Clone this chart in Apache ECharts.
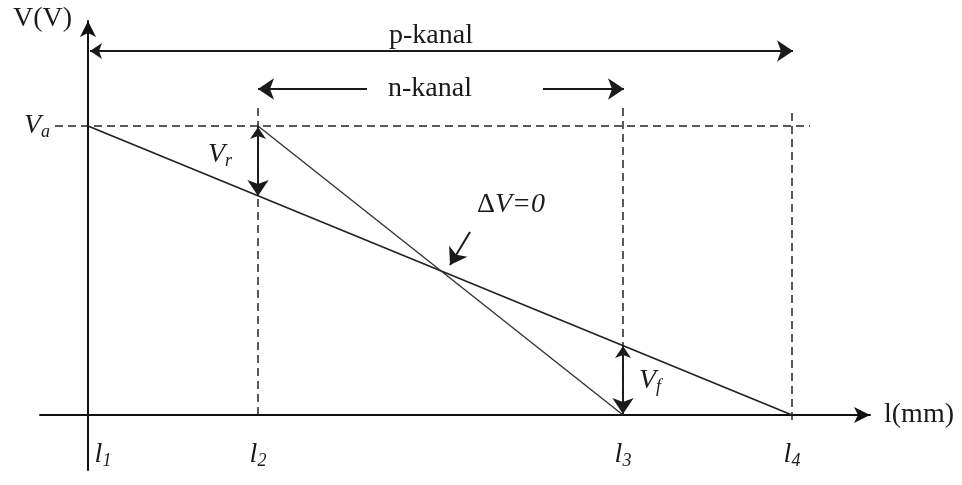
<!DOCTYPE html>
<html>
<head>
<meta charset="utf-8">
<script src="https://cdn.jsdelivr.net/npm/echarts@6/dist/echarts.min.js"></script>
<style>
  html, body { margin: 0; padding: 0; background: #fff; }
  #chart { width: 962px; height: 485px; }
</style>
</head>
<body>
<div id="chart"></div>
<script>
// positions along the channel (l1..l4) and the applied potential
const lPos = [0, 1.70, 5.35, 7.04];
const lNames = ['1', '2', '3', '4'];
const Va = 2.89;

// potential profiles
const pProfile = [[lPos[0], Va], [lPos[3], 0]];
const nProfile = [[lPos[1], Va], [lPos[2], 0]];

// dashed guide lines
const guides = [
  [[lPos[1], 0], [lPos[1], 3.12]],
  [[lPos[2], 0], [lPos[2], 3.08]],
  [[lPos[3], -0.05], [lPos[3], 3.02]],
  [[-0.33, Va], [7.22, Va]]
];

// arrows
const doubleArrows = [
  [[0.02, 3.64], [7.05, 3.64]],       // p-kanal
  [[lPos[1], 2.88], [lPos[1], 2.19]], // Vr
  [[lPos[2], 0.69], [lPos[2], 0.01]]  // Vf
];
const singleArrows = [
  [[2.79, 3.26], [1.70, 3.26]],
  [[4.55, 3.26], [5.36, 3.26]],
  [[3.82, 1.83], [3.62, 1.50]]
];

// text annotations [x, y, rich text]
const notes = [
  [3.43, 3.79, '{t|p-kanal}'],
  [3.42, 3.26, '{t|n-kanal}'],
  [1.32, 2.60, '{i|V}{s|r}'],
  [5.62, 0.34, '{i|V}{s|f}'],
  [4.23, 2.10, '{n|Δ}{i|V=0}']
];

const serif = 'Liberation Serif';
const ink = '#1a1a1a';
const rich = {
  t: { fontFamily: serif, fontSize: 28, color: ink },
  n: { fontFamily: serif, fontSize: 28, color: ink },
  i: { fontFamily: serif, fontSize: 28, fontStyle: 'italic', color: ink },
  s: { fontFamily: serif, fontSize: 18, fontStyle: 'italic', color: ink, padding: [12, 0, 0, 0] },
  i0: { fontFamily: serif, fontSize: 28, fontStyle: 'italic', color: ink, padding: [0, 0, 0, 30] }
};

const chart = echarts.init(document.getElementById('chart'));

const series = [
  {
    type: 'line', data: pProfile, symbol: 'none', silent: true,
    lineStyle: { color: '#222', width: 1.7 }
  },
  {
    type: 'line', data: nProfile, symbol: 'none', silent: true,
    lineStyle: { color: '#333', width: 1.4 }
  }
];

guides.forEach((g) => {
  series.push({
    type: 'line', data: g, symbol: 'none', silent: true,
    lineStyle: { color: '#222', width: 1.5, type: [8, 5] }
  });
});

series.push({
  type: 'lines', coordinateSystem: 'cartesian2d', silent: true,
  symbol: ['arrow', 'arrow'], symbolSize: [12, 16],
  lineStyle: { color: '#1a1a1a', width: 2, opacity: 1 },
  data: doubleArrows.map((c) => ({ coords: c }))
});

series.push({
  type: 'lines', coordinateSystem: 'cartesian2d', silent: true,
  symbol: ['none', 'arrow'], symbolSize: [12, 16],
  lineStyle: { color: '#1a1a1a', width: 2, opacity: 1 },
  data: singleArrows.map((c) => ({ coords: c }))
});

series.push({
  type: 'scatter', silent: true, symbolSize: 0,
  itemStyle: { color: '#fff' },
  data: notes.map((n) => ({ value: [n[0], n[1]], text: n[2] })),
  label: {
    show: true, position: 'inside', color: ink, opacity: 1,
    formatter: (p) => p.data.text,
    rich: rich
  }
});

const option = {
  animation: false,
  backgroundColor: '#fff',
  grid: { left: 40, top: 21, width: 830, height: 449, containLabel: false, outerBoundsMode: 'none' },
  xAxis: {
    type: 'value', min: -0.48, max: 7.82,
    name: 'l(mm)', nameLocation: 'end', nameGap: 14,
    nameTextStyle: { fontFamily: serif, fontSize: 28, color: ink, align: 'left', verticalAlign: 'middle' },
    axisLine: { onZero: true, symbol: ['none', 'arrow'], symbolSize: [12, 16], lineStyle: { color: '#111', width: 2 } },
    axisTick: { show: false },
    splitLine: { show: false },
    axisLabel: {
      customValues: lPos,
      margin: -30,
      formatter: (v) => {
        const k = lPos.indexOf(v);
        return (k === 0 ? '{i0|l}' : '{i|l}') + '{s|' + lNames[k] + '}';
      },
      rich: rich
    }
  },
  yAxis: {
    type: 'value', min: -0.55, max: 3.94,
    name: 'V(V)', nameLocation: 'end', nameGap: -12,
    nameTextStyle: { fontFamily: serif, fontSize: 28, color: ink, align: 'right', verticalAlign: 'bottom', padding: [0, 16, 0, 0] },
    axisLine: { onZero: true, symbol: ['none', 'arrow'], symbolSize: [12, 16], lineStyle: { color: '#111', width: 2 } },
    axisTick: { show: false },
    splitLine: { show: false },
    axisLabel: {
      customValues: [Va],
      margin: -10,
      formatter: () => '{i|V}{s|a}',
      rich: rich
    }
  },
  series: series
};

chart.setOption(option);
</script>
</body>
</html>
